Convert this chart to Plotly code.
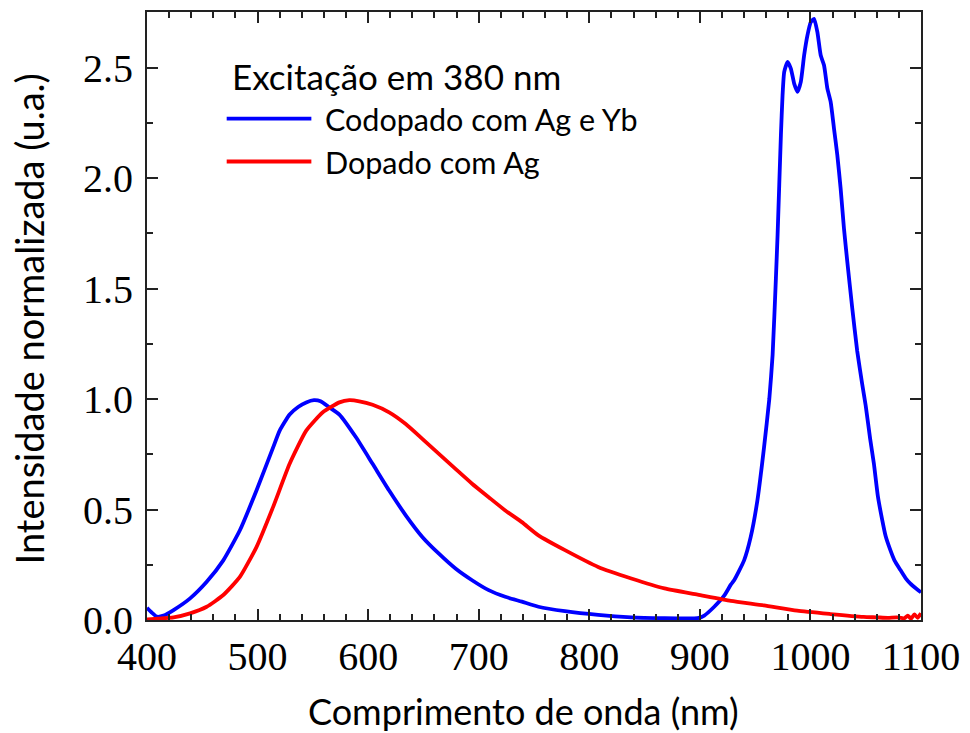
import plotly.graph_objects as go

# ---- data ----
wl_codoped = [400, 404, 409, 415, 424, 439, 454, 469, 484, 499, 514, 520, 529, 537, 544, 551, 557,
              565, 574, 589, 604, 619, 634, 649, 664, 679, 694, 709, 724, 739, 754, 778, 808, 838,
              868, 892, 898, 904, 913, 922, 928, 931, 940, 946, 952, 958, 962.8, 965.8, 968.8,
              970.3, 971.8, 973.3, 974.8, 976.3, 979.3, 982.3, 985.3, 988.3, 991.3, 994.3, 997.3,
              1000.3, 1003.3, 1006.3, 1009.3, 1012.3, 1015.3, 1018.3, 1021.3, 1024.3, 1027.3,
              1030.3, 1033.3, 1037.8, 1042.3, 1046.8, 1050, 1054, 1057.4, 1061, 1065, 1068,
              1072.3, 1076, 1081.4, 1086, 1090.4, 1095, 1100]
int_codoped = [0.055, 0.035, 0.015, 0.02, 0.045, 0.098, 0.173, 0.27, 0.406, 0.586, 0.78, 0.857,
               0.93, 0.965, 0.985, 0.995, 0.99, 0.962, 0.93, 0.827, 0.707, 0.586, 0.474, 0.376,
               0.30, 0.233, 0.18, 0.135, 0.105, 0.083, 0.06, 0.04, 0.023, 0.012, 0.008, 0.007,
               0.008, 0.02, 0.06, 0.11, 0.16, 0.18, 0.27, 0.376, 0.54, 0.78, 1.0, 1.2, 1.55,
               1.744, 1.97, 2.195, 2.376, 2.481, 2.526, 2.496, 2.428, 2.391, 2.436, 2.556, 2.646,
               2.706, 2.721, 2.661, 2.556, 2.511, 2.406, 2.345, 2.225, 2.105, 1.954, 1.774,
               1.624, 1.413, 1.218, 1.068, 0.97, 0.82, 0.707, 0.56, 0.451, 0.38, 0.316, 0.27,
               0.226, 0.19, 0.165, 0.145, 0.125]

wl_doped = [400, 410, 424, 439, 454, 469, 484, 499, 514, 529, 544, 559, 574, 583, 592, 604, 619,
            634, 649, 664, 679, 694, 709, 724, 739, 754, 778, 808, 838, 868, 898, 928, 958, 988,
            1018, 1048, 1060, 1070, 1078, 1085, 1088, 1091, 1094, 1097, 1100]
int_doped = [0.003, 0.006, 0.012, 0.03, 0.06, 0.113, 0.195, 0.33, 0.511, 0.707, 0.857, 0.94,
             0.985, 0.995, 0.99, 0.974, 0.94, 0.887, 0.82, 0.752, 0.684, 0.617, 0.556, 0.496,
             0.443, 0.383, 0.316, 0.24, 0.188, 0.143, 0.115, 0.087, 0.066, 0.042, 0.027, 0.014,
             0.012, 0.01, 0.012, 0.008, 0.02, 0.006, 0.025, 0.01, 0.03]

series_names = ["Codopado com Ag e Yb", "Dopado com Ag"]
series_colors = ["#0000FF", "#FF0000"]
legend_title = "Excitação em 380 nm"
x_title = "Comprimento de onda (nm)"
y_title = "Intensidade normalizada (u.a.)"
x_ticks = [400, 500, 600, 700, 800, 900, 1000, 1100]
y_ticks = [0.0, 0.5, 1.0, 1.5, 2.0, 2.5]

# ---- figure ----
W, H = 970, 733
L, R, T, B = 147, 924, 10, 620

fig = go.Figure()
fig.add_trace(go.Scatter(x=wl_codoped, y=int_codoped, mode="lines", name=series_names[0],
                         line=dict(color=series_colors[0], width=3.8, shape="spline",
                                   smoothing=0.5), showlegend=False))
fig.add_trace(go.Scatter(x=wl_doped, y=int_doped, mode="lines", name=series_names[1],
                         line=dict(color=series_colors[1], width=3.8, shape="spline",
                                   smoothing=0.5), showlegend=False))

axis_common = dict(showline=True, linecolor="#222222", linewidth=2, mirror="allticks",
                   ticks="inside", ticklen=11, tickwidth=2, tickcolor="#222222",
                   showgrid=False, zeroline=False,
                   tickfont=dict(family="Liberation Serif, Times New Roman, serif", size=40,
                                 color="black"))

fig.update_xaxes(range=[400, 1100], tickvals=x_ticks, ticktext=[str(v) for v in x_ticks],
                 minor=dict(dtick=20, ticks="inside", ticklen=6, tickwidth=2,
                            tickcolor="#222222"),
                 ticklabelstandoff=0, **axis_common)
fig.update_yaxes(range=[0, 2.752], tickvals=y_ticks, ticktext=[f"{v:.1f}" for v in y_ticks],
                 minor=dict(dtick=0.25, ticks="inside", ticklen=6, tickwidth=2,
                            tickcolor="#222222"),
                 ticklabelstandoff=4, **axis_common)

def px_x(p):
    return (p - L) / (R - L)

def px_y(p):
    return (B - p) / (B - T)

sans = "Lato, Noto Sans, sans-serif"
annotations = [
    dict(text=x_title, x=px_x(525), y=px_y(711), xref="paper", yref="paper",
         xanchor="center", yanchor="middle", showarrow=False,
         font=dict(family=sans, size=36, color="black")),
    dict(text=y_title, x=px_x(29), y=px_y(318), xref="paper", yref="paper",
         xanchor="center", yanchor="middle", showarrow=False, textangle=-90,
         font=dict(family=sans, size=38, color="black")),
    dict(text=legend_title, x=px_x(230), y=px_y(74), xref="paper", yref="paper",
         xanchor="left", yanchor="middle", showarrow=False,
         font=dict(family=sans, size=35, color="black")),
]
shapes = []
for i, (name, col, ypx) in enumerate(zip(series_names, series_colors, [117, 160])):
    annotations.append(dict(text=name, x=px_x(324), y=px_y(ypx), xref="paper", yref="paper",
                            xanchor="left", yanchor="middle", showarrow=False,
                            font=dict(family=sans, size=30.5, color="black")))
    shapes.append(dict(type="line", xref="paper", yref="paper", x0=px_x(227), x1=px_x(312),
                       y0=px_y(ypx), y1=px_y(ypx), line=dict(color=col, width=3.8)))

fig.update_layout(width=W, height=H, margin=dict(l=L, r=W - R, t=T, b=H - B),
                  paper_bgcolor="white", plot_bgcolor="white",
                  annotations=annotations, shapes=shapes, showlegend=False)

fig.write_html("out.html")
